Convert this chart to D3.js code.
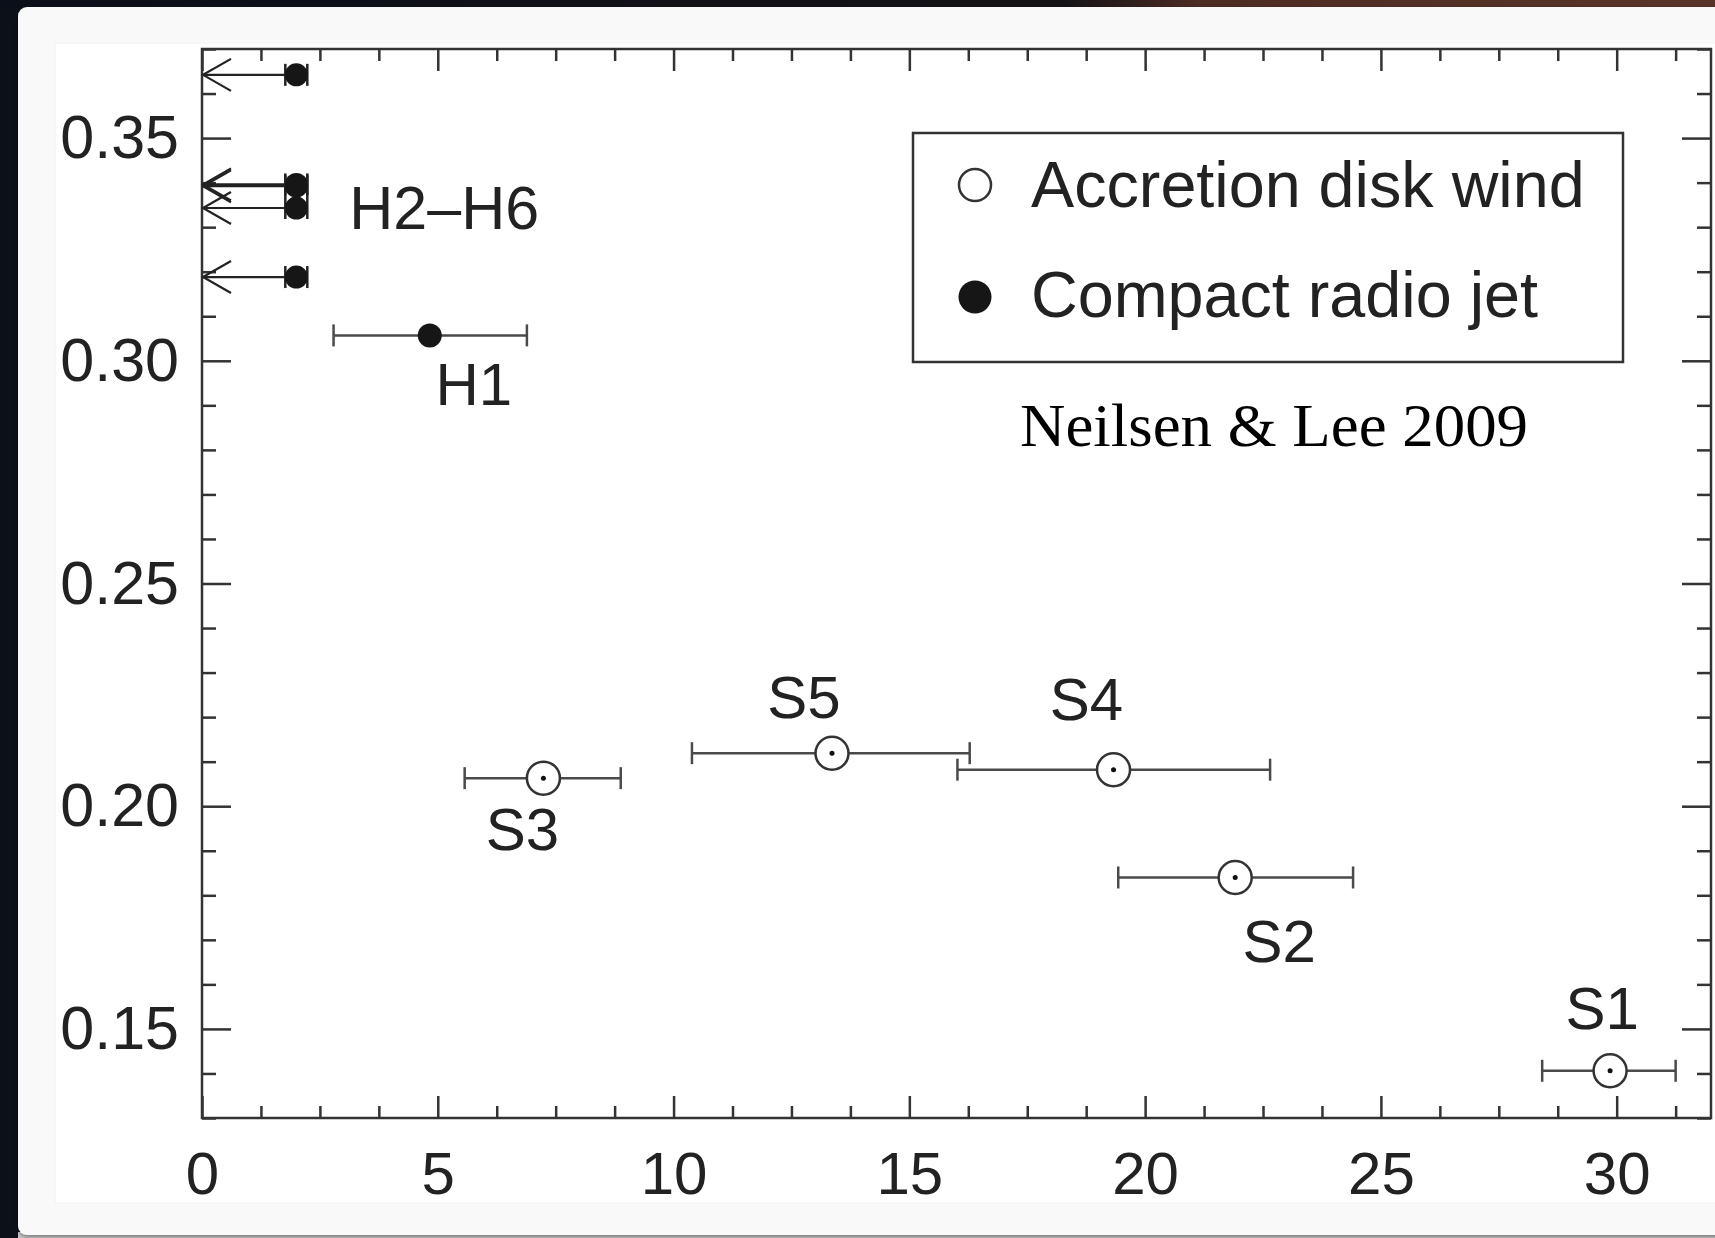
<!DOCTYPE html>
<html>
<head>
<meta charset="utf-8">
<script src="https://cdn.jsdelivr.net/npm/d3@7"></script>
<style>
  html, body { margin: 0; padding: 0; background: #0c1018; }
  svg { display: block; }
  .tick text { font-family: "Liberation Sans", Arial, Helvetica, sans-serif; fill: #222; }
</style>
</head>
<body>
<svg id="chart" width="1715" height="1238"></svg>
<script>
// ---- data ----
// Accretion disk wind states (open circles): x with horizontal error range, y
const windNames = ["S1", "S2", "S3", "S4", "S5"];
const windX     = [29.86, 21.91, 7.24, 19.33, 13.36];
const windXLo   = [28.42, 19.43, 5.57, 16.02, 10.39];
const windXHi   = [31.25, 24.41, 8.88, 22.65, 16.28];
const windY     = [0.1406, 0.1840, 0.2063, 0.2082, 0.2119];

// Compact radio jet state with a measured value (filled circle)
const jetNames  = ["H1"];
const jetX      = [4.83];
const jetXLo    = [2.79];
const jetXHi    = [6.89];
const jetY      = [0.3057];

// Compact radio jet states given as upper limits in x
const limitNames = ["H2", "H3", "H4", "H5", "H6"];
const limitX     = [2.0, 2.0, 2.0, 2.0, 2.0];
const limitY     = [0.3642, 0.3396, 0.3392, 0.3343, 0.3188];
const limitGroupLabel = "H2–H6";

// axes
const xDomain = [0, 32];
const yDomain = [0.13, 0.37];
const xMajorTicks = [0, 5, 10, 15, 20, 25, 30];
const yMajorTicks = [0.15, 0.20, 0.25, 0.30, 0.35];
const xTickLabels = ["0", "5", "10", "15", "20", "25", "30"];
const yTickLabels = ["0.15", "0.20", "0.25", "0.30", "0.35"];
const xMinorStep = 1.25;
const yMinorStep = 0.01;

const legendLabels = ["Accretion disk wind", "Compact radio jet"];
const creditText = "Neilsen & Lee 2009";

// ---- drawing ----
const svg = d3.select("#chart");
const W = 1715, H = 1238;
const ink = "#222";
const sans = '"Liberation Sans", Arial, Helvetica, sans-serif';

// backdrop: dark desktop strip along the left and top, card on top of it
const defs = svg.append("defs");
const topGrad = defs.append("linearGradient").attr("id", "topStrip").attr("x1", 0).attr("x2", 1);
topGrad.append("stop").attr("offset", "0").attr("stop-color", "#0b0f19");
topGrad.append("stop").attr("offset", "0.62").attr("stop-color", "#151316");
topGrad.append("stop").attr("offset", "0.70").attr("stop-color", "#4e2c24");
topGrad.append("stop").attr("offset", "1").attr("stop-color", "#5a3429");
const shadow = defs.append("filter").attr("id", "cardShadow")
  .attr("x", "-5%").attr("y", "-5%").attr("width", "110%").attr("height", "110%");
shadow.append("feDropShadow").attr("dx", 0).attr("dy", 2).attr("stdDeviation", 2.5)
  .attr("flood-color", "#000").attr("flood-opacity", 0.45);

svg.append("rect").attr("width", W).attr("height", H).attr("fill", "#0c1018");
svg.append("rect").attr("x", 0).attr("y", 0).attr("width", W).attr("height", 8).attr("fill", "url(#topStrip)");
svg.append("rect").attr("x", 18).attr("y", 1232).attr("width", W).attr("height", 6).attr("fill", "#cfcfcf");
svg.append("rect").attr("x", 18).attr("y", 7).attr("width", W + 20).attr("height", 1228)
  .attr("rx", 9).attr("fill", "#f9f9f9").attr("filter", "url(#cardShadow)");
svg.append("rect").attr("x", 55).attr("y", 43).attr("width", W).attr("height", 1160)
  .attr("fill", "#ffffff").attr("stroke", "#f1f1f1").attr("stroke-width", 1);

// plot frame
const plotLeft = 202, plotRight = 1711, plotTop = 49, plotBottom = 1118;
const x = d3.scaleLinear().domain(xDomain).range([plotLeft, plotRight]);
const y = d3.scaleLinear().domain(yDomain).range([plotBottom, plotTop]);

const xMinor = d3.range(xDomain[0], xDomain[1] + 1e-6, xMinorStep)
  .filter(v => Math.abs(v / 5 - Math.round(v / 5)) > 1e-6);
const yMinor = d3.range(0, Math.round((yDomain[1] - yDomain[0]) / yMinorStep) + 1)
  .map(k => +(yDomain[0] + k * yMinorStep).toFixed(2))
  .filter(v => Math.round(v * 100) % 5 !== 0);

const axisStyle = g => {
  g.select(".domain").remove();
  g.selectAll(".tick line").attr("stroke", "#333").attr("stroke-width", 2.5);
};

// bottom axis with labels
svg.append("g").attr("transform", `translate(0,${plotBottom})`)
  .call(d3.axisBottom(x).tickValues(xMajorTicks).tickSize(-22).tickPadding(33)
    .tickFormat((d, i) => xTickLabels[i]))
  .call(axisStyle)
  .call(g => g.selectAll(".tick text").attr("font-size", 60).attr("font-family", sans));
svg.append("g").attr("transform", `translate(0,${plotBottom})`)
  .call(d3.axisBottom(x).tickValues(xMinor).tickSize(-12).tickFormat(""))
  .call(axisStyle);
// top axis
svg.append("g").attr("transform", `translate(0,${plotTop})`)
  .call(d3.axisTop(x).tickValues(xMajorTicks).tickSize(-22).tickFormat(""))
  .call(axisStyle);
svg.append("g").attr("transform", `translate(0,${plotTop})`)
  .call(d3.axisTop(x).tickValues(xMinor).tickSize(-12).tickFormat(""))
  .call(axisStyle);
// left axis with labels
svg.append("g").attr("transform", `translate(${plotLeft},0)`)
  .call(d3.axisLeft(y).tickValues(yMajorTicks).tickSize(-29).tickPadding(23)
    .tickFormat((d, i) => yTickLabels[i]))
  .call(axisStyle)
  .call(g => g.selectAll(".tick text").attr("font-size", 61).attr("font-family", sans));
svg.append("g").attr("transform", `translate(${plotLeft},0)`)
  .call(d3.axisLeft(y).tickValues(yMinor).tickSize(-14).tickFormat(""))
  .call(axisStyle);
// right axis
svg.append("g").attr("transform", `translate(${plotRight},0)`)
  .call(d3.axisRight(y).tickValues(yMajorTicks).tickSize(-29).tickFormat(""))
  .call(axisStyle);
svg.append("g").attr("transform", `translate(${plotRight},0)`)
  .call(d3.axisRight(y).tickValues(yMinor).tickSize(-14).tickFormat(""))
  .call(axisStyle);

svg.append("rect").attr("x", plotLeft).attr("y", plotTop)
  .attr("width", plotRight - plotLeft).attr("height", plotBottom - plotTop)
  .attr("fill", "none").attr("stroke", "#333").attr("stroke-width", 2.5);

// horizontal error bars with end caps
function errorBar(g, lo, hi, yv, color) {
  const yy = y(yv);
  g.append("line").attr("x1", x(lo)).attr("x2", x(hi)).attr("y1", yy).attr("y2", yy)
    .attr("stroke", color).attr("stroke-width", 2.5);
  [lo, hi].forEach(v => g.append("line")
    .attr("x1", x(v)).attr("x2", x(v)).attr("y1", yy - 11).attr("y2", yy + 11)
    .attr("stroke", color).attr("stroke-width", 2.5));
}

const marks = svg.append("g");

// disk wind points
windNames.forEach((n, i) => {
  errorBar(marks, windXLo[i], windXHi[i], windY[i], "#4a4a4a");
  marks.append("circle").attr("cx", x(windX[i])).attr("cy", y(windY[i])).attr("r", 16.5)
    .attr("fill", "#fff").attr("stroke", "#333").attr("stroke-width", 2.5);
  marks.append("circle").attr("cx", x(windX[i])).attr("cy", y(windY[i])).attr("r", 2.5)
    .attr("fill", "#111");
});

// jet point with measured value
jetNames.forEach((n, i) => {
  errorBar(marks, jetXLo[i], jetXHi[i], jetY[i], "#4a4a4a");
  marks.append("circle").attr("cx", x(jetX[i])).attr("cy", y(jetY[i])).attr("r", 12)
    .attr("fill", "#161616");
});

// jet upper limits: line back to the axis with an open arrowhead
limitNames.forEach((n, i) => {
  const px = x(limitX[i]), py = y(limitY[i]), x0 = x(xDomain[0]);
  marks.append("line").attr("x1", px).attr("x2", x0).attr("y1", py).attr("y2", py)
    .attr("stroke", ink).attr("stroke-width", 2.2);
  marks.append("path")
    .attr("d", `M${x0 + 29},${py - 16} L${x0 + 1},${py} L${x0 + 29},${py + 16}`)
    .attr("fill", "none").attr("stroke", ink).attr("stroke-width", 2.2);
  [px - 11, px + 11].forEach(cx => marks.append("line")
    .attr("x1", cx).attr("x2", cx).attr("y1", py - 11).attr("y2", py + 11)
    .attr("stroke", ink).attr("stroke-width", 2.5));
  marks.append("circle").attr("cx", px).attr("cy", py).attr("r", 11.5).attr("fill", "#161616");
});

// point labels (pixel offsets from each point)
const labelOffset = {
  S1: [-8, -42], S2: [44, 85], S3: [-21, 72], S4: [-27, -50], S5: [-28, -35], H1: [44, 70]
};
const labels = svg.append("g").attr("font-family", sans).attr("font-size", 60)
  .attr("fill", ink).attr("text-anchor", "middle");
windNames.forEach((n, i) => labels.append("text")
  .attr("x", x(windX[i]) + labelOffset[n][0]).attr("y", y(windY[i]) + labelOffset[n][1]).text(n));
jetNames.forEach((n, i) => labels.append("text")
  .attr("x", x(jetX[i]) + labelOffset[n][0]).attr("y", y(jetY[i]) + labelOffset[n][1]).text(n));
labels.append("text").attr("text-anchor", "start").attr("font-size", 61)
  .attr("x", x(limitX[0]) + 53).attr("y", 229).text(limitGroupLabel);

// legend
const lg = svg.append("g");
lg.append("rect").attr("x", 913).attr("y", 133).attr("width", 710).attr("height", 229)
  .attr("fill", "#fff").attr("stroke", "#333").attr("stroke-width", 2.5);
lg.append("circle").attr("cx", 975).attr("cy", 185).attr("r", 16)
  .attr("fill", "none").attr("stroke", "#333").attr("stroke-width", 2.5);
lg.append("circle").attr("cx", 975).attr("cy", 297).attr("r", 16.5).attr("fill", "#161616");
lg.selectAll("text.leg").data(legendLabels).join("text").attr("class", "leg")
  .attr("x", 1031).attr("y", (d, i) => i === 0 ? 207 : 317)
  .attr("font-family", sans).attr("font-size", 64.7).attr("fill", ink).text(d => d);

// credit line
svg.append("text").attr("x", 1020).attr("y", 446)
  .attr("font-family", '"Liberation Serif", "DejaVu Serif", serif').attr("font-size", 62)
  .attr("fill", "#000").attr("textLength", 508).attr("lengthAdjust", "spacingAndGlyphs")
  .text(creditText);
</script>
</body>
</html>
